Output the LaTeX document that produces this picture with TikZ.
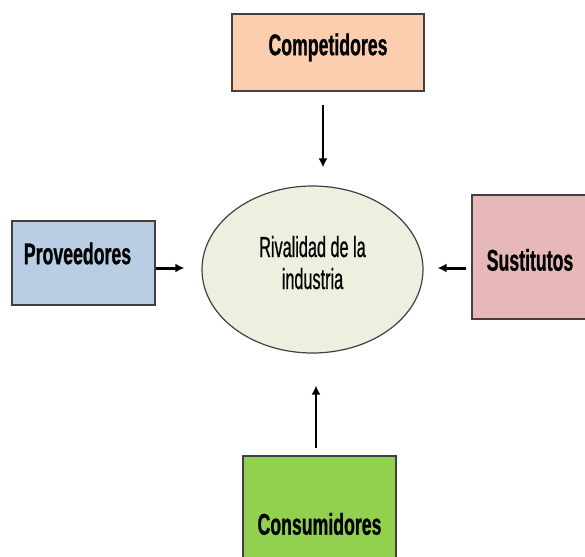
\documentclass[tikz,border=0pt]{standalone}
\usepackage{fontspec}
\newfontfamily\boxfont[FakeStretch=0.59, FakeBold=0.8]{Liberation Sans}
\newfontfamily\ellfont[FakeStretch=0.56, FakeBold=0.6]{Liberation Sans}
\usetikzlibrary{shapes.geometric}
\usetikzlibrary{arrows.meta}
\definecolor{compfill}{RGB}{250,206,175}
\definecolor{provfill}{RGB}{185,205,228}
\definecolor{sustfill}{RGB}{230,185,184}
\definecolor{consfill}{RGB}{146,208,80}
\definecolor{rivalfill}{RGB}{235,241,222}

\begin{document}
\begin{tikzpicture}[x=0.5pt, y=-0.5pt, >={Latex[length=4.5pt, width=4.5pt]},
    box/.style={draw=black!75, line width=0.7pt, font=\boxfont\bfseries\fontsize{15}{18}\selectfont},
    arr/.style={->, line width=0.8pt}]
    \useasboundingbox (0,0) rectangle (585,557);
    % =========================
    \node[ellipse, draw=black!75, line width=0.6pt, fill=rivalfill, minimum width=110.5pt, minimum height=83.5pt,
        inner sep=0pt, align=center, font=\ellfont\fontsize{14.5}{16}\selectfont] (rival) at (312.5,269.5) {Rivalidad de la\\industria\rule[-7pt]{0pt}{0pt}};

    \node[box, fill=compfill, minimum width=96pt, minimum height=38.5pt, text height=10.7pt, text depth=8pt] (comp) at (328,52.5) {Competidores};
    \node[box, fill=provfill, minimum width=71.5pt, minimum height=42pt, text height=10.7pt, text depth=9.5pt] (prov) at (83.5,263) {Proveedores\hspace*{6pt}};
    \node[box, fill=sustfill, minimum width=58pt, minimum height=62pt, text height=13.7pt, text depth=0pt] (sust) at (530,257) {Sustitutos};
    \node[box, fill=consfill, minimum width=76.5pt, minimum height=68pt, text height=10.7pt, text depth=0pt] (cons) at (319.5,524) {Consumidores};
    % ===============================
    \draw[arr, shorten <=6.5pt, shorten >=9pt] ([xshift=-2.5pt]comp.south) -- ([xshift=5.25pt]rival.north);
    \draw[arr, line width=1.5pt, shorten >=8.5pt] ([yshift=-2.5pt]prov.east) -- ([yshift=0.75pt]rival.west);
    \draw[arr, line width=1.5pt, shorten <=2.5pt, shorten >=7pt] ([yshift=-5.5pt]sust.west) -- ([yshift=0.75pt]rival.east);
    \draw[arr, shorten <=3.5pt, shorten >=16pt] ([xshift=-1.75pt]cons.north) -- ([xshift=1.75pt]rival.south);
\end{tikzpicture}
\end{document}
